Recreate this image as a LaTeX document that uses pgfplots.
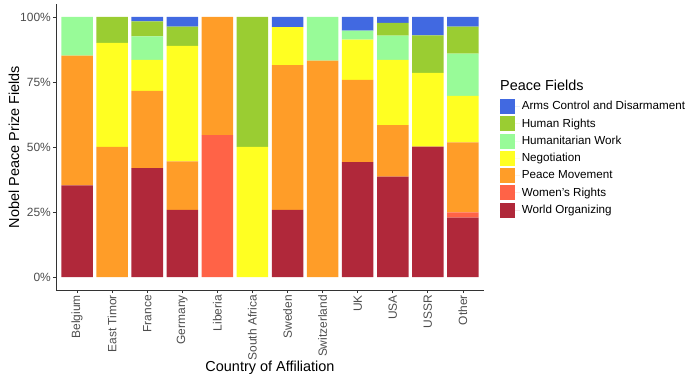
\documentclass[border=0pt]{standalone}
\usepackage{pgfplots}
\pgfplotsset{compat=1.18}
\usepackage{pgfplotstable}
\usepackage{fontspec}
\setmainfont{Liberation Sans}
\definecolor{cAC}{HTML}{4169E1}
\definecolor{cHR}{HTML}{9ACD32}
\definecolor{cHW}{HTML}{98FB98}
\definecolor{cNG}{HTML}{FFFF22}
\definecolor{cPM}{HTML}{FF9D28}
\definecolor{cWR}{HTML}{FF6347}
\definecolor{cWO}{HTML}{B0283A}
\definecolor{txtgrey}{HTML}{4D4D4D}
\definecolor{axgrey}{HTML}{333333}
% columns: x, WO, WR, PM, NG, HW, HR, AC
\pgfplotstableread{
x  WO   WR   PM   NG   HW   HR   AC
0  35.2 0    49.9 0    14.9 0    0
1  0    0    50.0 40.0 0    10.0 0
2  41.9 0    29.7 11.9 9.0  5.8  1.7
3  25.8 0    18.7 44.4 0    7.4  3.7
4  0    54.6 45.4 0    0    0    0
5  0    0    0    50.0 0    50.0 0
6  25.8 0    55.7 14.6 0    0    3.9
7  0    0    83.2 0    16.8 0    0
8  44.2 0    31.6 15.5 3.5  0    5.2
9  38.6 0    19.8 25.1 9.3  4.9  2.3
10 50.1 0    0    28.4 0    14.4 7.1
11 22.8 2.1  26.9 17.9 16.2 10.4 3.7
}\data
\begin{document}
\begin{tikzpicture}
\begin{axis}[
  scale only axis,
  width=428bp, height=286bp,
  xmin=-0.6, xmax=11.6, ymin=-5, ymax=105,
  ybar stacked, bar width=0.9,
  clip=false,
  axis lines=left,
  axis line style={-, axgrey, line width=0.9bp},
  tick align=outside,
  major tick length=3bp,
  tick style={axgrey, line width=0.8bp},
  xtick={0,...,11},
  xticklabels={Belgium,East Timor,France,Germany,Liberia,South Africa,Sweden,Switzerland,UK,USA,USSR,Other},
  xticklabel style={rotate=90, anchor=east, font=\fontsize{12}{14}\selectfont, text=txtgrey, inner sep=2bp},
  ytick={0,25,50,75,100},
  yticklabels={0\%,25\%,50\%,75\%,100\%},
  yticklabel style={font=\fontsize{12}{14}\selectfont, text=txtgrey, inner sep=2bp},
  /pgf/number format/assume math mode=true,
  xlabel={Country of Affiliation},
  ylabel={Nobel Peace Prize Fields},
  xlabel style={font=\fontsize{14.5}{16}\selectfont, at={(axis description cs:0.5,-0.273)}, anchor=center},
  ylabel style={font=\fontsize{14.5}{16}\selectfont, at={(axis description cs:-0.098,0.5)}, anchor=center},
  reverse legend,
  legend style={at={(axis description cs:1.037,0.668)}, anchor=north west, draw=none, fill=none,
    inner sep=0pt, outer sep=0pt, row sep=2.3bp,
    font=\fontsize{11.7}{13}\selectfont,
    cells={anchor=west},
    /tikz/every even column/.append style={column sep=0pt}},
  mylegend/.style={legend image code/.code={\fill[##1] (0bp,-7.5bp) rectangle (15bp,7.5bp);\path (0bp,0bp) -- (20bp,0bp);}},
]
\addplot[fill=cWO, draw=none, mylegend] table[x=x, y=WO] {\data};
\addlegendentry{World Organizing}
\addplot[fill=cWR, draw=none, mylegend] table[x=x, y=WR] {\data};
\addlegendentry{Women's Rights}
\addplot[fill=cPM, draw=none, mylegend] table[x=x, y=PM] {\data};
\addlegendentry{Peace Movement}
\addplot[fill=cNG, draw=none, mylegend] table[x=x, y=NG] {\data};
\addlegendentry{Negotiation}
\addplot[fill=cHW, draw=none, mylegend] table[x=x, y=HW] {\data};
\addlegendentry{Humanitarian Work}
\addplot[fill=cHR, draw=none, mylegend] table[x=x, y=HR] {\data};
\addlegendentry{Human Rights}
\addplot[fill=cAC, draw=none, mylegend] table[x=x, y=AC] {\data};
\addlegendentry{Arms Control and Disarmament}
\node[anchor=base west, font=\fontsize{14.5}{16}\selectfont, inner sep=0pt] at (axis description cs:1.0374,0.696) {Peace Fields};
\path (rel axis cs:0,0) ++(-56bp,-90bp) rectangle ++(700bp,380bp);
\end{axis}
\end{tikzpicture}
\end{document}
